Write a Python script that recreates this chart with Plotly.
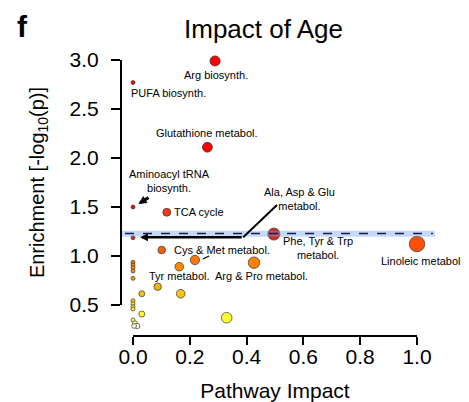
import plotly.graph_objects as go

# ---- data ----
impact = [0.289, 0.0, 0.262, 0.0, 0.119, 0.0, 0.496, 1.0, 0.101, 0.218,
          0.163, 0.426, 0.0, 0.0, 0.0, 0.0, 0.0, 0.087, 0.031, 0.168,
          0.0, 0.0, 0.0, 0.0, 0.031, 0.33, 0.0, 0.007, 0.015, 0.004]
enrichment = [2.99, 2.77, 2.11, 1.50, 1.446, 1.187, 1.224, 1.122, 1.061, 0.959,
              0.891, 0.932, 0.936, 0.908, 0.881, 0.847, 0.772, 0.687, 0.615, 0.615,
              0.544, 0.513, 0.483, 0.459, 0.408, 0.370, 0.347, 0.313, 0.286, 0.286]
threshold = 1.23

x_ticks = [0.0, 0.2, 0.4, 0.6, 0.8, 1.0]
x_ticklabels = ["0.0", "0.2", "0.4", "0.6", "0.8", "1.0"]
y_ticks = [0.5, 1.0, 1.5, 2.0, 2.5, 3.0]
y_ticklabels = ["0.5", "1.0", "1.5", "2.0", "2.5", "3.0"]

label_texts = ["Arg biosynth.", "PUFA biosynth.", "Glutathione metabol.",
               "Aminoacyl tRNA<br>biosynth.", "TCA cycle", "Ala, Asp & Glu<br>metabol.",
               "Phe, Tyr & Trp<br>metabol.", "Linoleic metabol.", "Cys & Met metabol.",
               "Tyr metabol.", "Arg & Pro metabol."]

# ---- styling / layout (positions of labels) ----
label_pos = [(0.292, 2.847), (0.125, 2.666), (0.26, 2.252), (0.13, 1.77),
             (0.232, 1.449), (0.588, 1.577), (0.65, 1.079), (1.02, 0.952),
             (0.312, 1.061), (0.165, 0.796), (0.453, 0.796)]

FONT = "Liberation Sans, Arial, sans-serif"
sizes = [4 + 11.5 * (v ** 0.5) for v in impact]

colorscale = [
    [0.0, "#fffbe6"], [0.074, "#ffff33"], [0.148, "#fff020"], [0.28, "#f5c010"],
    [0.40, "#f7a000"], [0.53, "#ff8000"], [0.64, "#f86010"], [0.69, "#ff5008"],
    [0.74, "#d42a1a"], [0.80, "#d82a18"], [0.96, "#f23a14"], [1.0, "#ff0000"],
]

# page body has an 8px margin, so the figure is 8px smaller than the window
W, H = 461, 394
ML, MR, MT, MB = 114, 24, 42, 67
PW, PH = W - ML - MR, H - MT - MB

x0, x1 = -0.0387, 1.0986
y0, y1 = 0.194, 3.102


def xpaper(v):
    return (v - x0) / (x1 - x0)


def ypaper(v):
    return (v - y0) / (y1 - y0)


fig = go.Figure()
# empty trace so the visible (shorter) axes are drawn
fig.add_trace(go.Scatter(x=[], y=[], xaxis="x2", yaxis="y2", showlegend=False, hoverinfo="skip"))
fig.add_trace(go.Scatter(
    x=impact, y=enrichment, mode="markers",
    marker=dict(size=sizes, color=enrichment, colorscale=colorscale, opacity=1,
                cmin=0.28, cmax=1.5, line=dict(color="#333333", width=0.7)),
    showlegend=False, hoverinfo="x+y", cliponaxis=False,
))

shapes = [
    dict(type="rect", xref="x", yref="y", x0=x0, x1=1.063, y0=threshold - 0.033,
         y1=threshold + 0.027, fillcolor="rgba(110,160,240,0.40)", line=dict(width=0), layer="above"),
    dict(type="line", xref="x", yref="y", x0=-0.028, x1=1.056, y0=threshold, y1=threshold,
         line=dict(color="#1a1a4a", width=1.4, dash="dash")),
    dict(type="line", xref="x", yref="y", x0=0.507, x1=0.388, y0=1.52, y1=1.191,
         line=dict(color="black", width=2)),
    dict(type="line", xref="x", yref="y", x0=0.246, x1=0.268, y0=0.97, y1=1.0,
         line=dict(color="black", width=1.2)),
]

annotations = []
for t, (lx, ly) in zip(label_texts, label_pos):
    annotations.append(dict(x=lx, y=ly, xref="x", yref="y", text=t, showarrow=False,
                            font=dict(family=FONT, size=11, color="black"), align="center"))

annotations.append(dict(x=0.019, y=1.531, ax=0.06, ay=1.605, xref="x", yref="y",
                        axref="x", ayref="y", text="", showarrow=True, arrowhead=2,
                        arrowsize=0.55, arrowwidth=3, arrowcolor="black"))
annotations.append(dict(x=0.025, y=1.191, ax=0.388, ay=1.191, xref="x", yref="y",
                        axref="x", ayref="y", text="", showarrow=True, arrowhead=2,
                        arrowsize=0.6, arrowwidth=2.6, arrowcolor="black"))

annotations.append(dict(x=(14 - ML) / PW, y=1 + (MT - 0) / PH, xref="paper", yref="paper",
                        text="<b>f</b>", showarrow=False, xanchor="center", yanchor="top",
                        font=dict(family=FONT, size=30, color="black")))
annotations.append(dict(x=(255 - ML) / PW, y=1 + (MT - 21) / PH, xref="paper", yref="paper",
                        text="Impact of Age", showarrow=False, xanchor="center", yanchor="middle",
                        font=dict(family=FONT, size=26, color="black")))

hidden = dict(visible=False, showgrid=False, zeroline=False)

fig.update_layout(
    width=W, height=H,
    margin=dict(l=ML, r=MR, t=MT, b=MB, autoexpand=False),
    paper_bgcolor="white", plot_bgcolor="rgba(0,0,0,0)",
    font=dict(family=FONT, color="black"),
    shapes=shapes, annotations=annotations,
    xaxis=dict(range=[x0, x1], domain=[0, 1], anchor="y", **hidden),
    yaxis=dict(range=[y0, y1], domain=[0, 1], anchor="x", **hidden),
    xaxis2=dict(range=[0, 1], domain=[xpaper(0), xpaper(1)], anchor="y",
                tickvals=x_ticks, ticktext=x_ticklabels, showgrid=False, zeroline=False,
                showline=True, linecolor="black", linewidth=2,
                ticks="outside", ticklen=8, tickwidth=1.6, tickcolor="black",
                ticklabelstandoff=-6,
                tickfont=dict(family=FONT, size=21, color="black"), automargin=False,
                title=dict(text="Pathway Impact", font=dict(family=FONT, size=21, color="black"),
                           standoff=19)),
    yaxis2=dict(range=[0.5, 3.0], domain=[ypaper(0.5), ypaper(3.0)], anchor="x",
                tickvals=y_ticks, ticktext=y_ticklabels, showgrid=False, zeroline=False,
                showline=True, linecolor="black", linewidth=2,
                ticks="outside", ticklen=9, tickwidth=1.6, tickcolor="black",
                ticklabelstandoff=8,
                tickfont=dict(family=FONT, size=21, color="black"), automargin=False,
                title=dict(text="Enrichment [-log<sub>10</sub>(p)]",
                           font=dict(family=FONT, size=20, color="black"), standoff=20)),
)

fig.write_html("out.html")
